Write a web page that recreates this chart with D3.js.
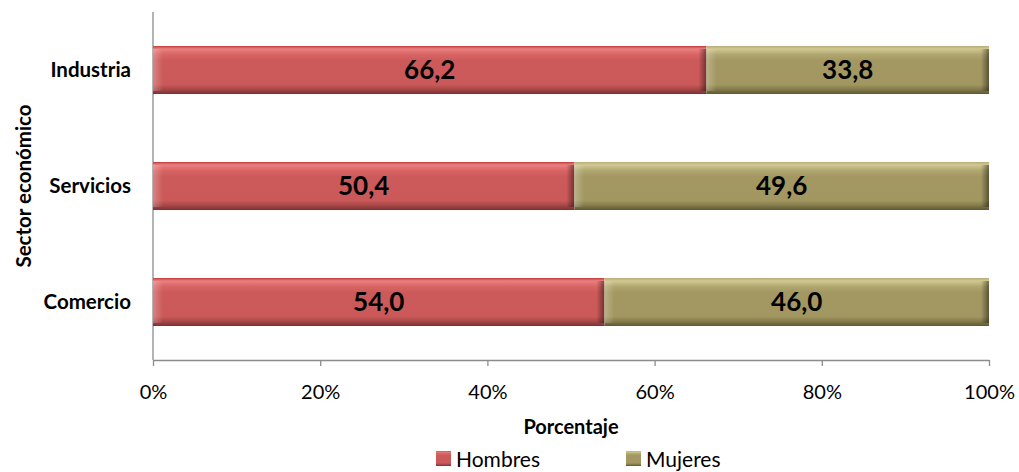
<!DOCTYPE html>
<html><head><meta charset="utf-8">
<script src="https://cdn.jsdelivr.net/npm/d3@7"></script>
<style>body{margin:0;background:#fff}svg{display:block}</style>
</head><body>
<svg id="c" width="1019" height="472"></svg>
<script>
const categories = ["Industria", "Servicios", "Comercio"];
const hombres = [66.2, 50.4, 54.0];
const mujeres = [33.8, 49.6, 46.0];
const seriesNames = ["Hombres", "Mujeres"];
const xTicks = [0, 20, 40, 60, 80, 100];

const FONT = "Lato, 'Open Sans', sans-serif";
const svg = d3.select("#c");
const m = {l:153, r:1019-989, t:12, b:472-360};
const W = 1019, H = 472;
const x = d3.scaleLinear().domain([0,100]).range([m.l, W-m.r]);
const y = d3.scaleBand().domain(categories).range([m.t, H-m.b]).paddingInner(0.586).paddingOuter(0.293);

const defs = svg.append("defs");
function grad(id, stops){
  const g = defs.append("linearGradient").attr("id", id).attr("x1",0).attr("y1",0).attr("x2",0).attr("y2",1);
  stops.forEach(s=>g.append("stop").attr("offset", s[0]).attr("stop-color", s[1]));
}
grad("gH", [[0,"#c53a3a"],[0.06,"#e98080"],[0.18,"#d86464"],[0.3,"#cd5a5a"],[0.8,"#cb5959"],[0.9,"#a84848"],[1,"#7e3030"]]);
grad("gM", [[0,"#b5ac79"],[0.06,"#d2c892"],[0.18,"#b0a670"],[0.3,"#a39862"],[0.8,"#a29761"],[0.9,"#857c4c"],[1,"#5e5734"]]);
function hgrad(id, c1, op){
  const g = defs.append("linearGradient").attr("id", id).attr("x1",0).attr("y1",0).attr("x2",1).attr("y2",0);
  g.append("stop").attr("offset",0).attr("stop-color",c1).attr("stop-opacity",op);
  g.append("stop").attr("offset",1).attr("stop-color",c1).attr("stop-opacity",0);
}
hgrad("edgeL","#ffffff",0.25);
hgrad("edgeR","#000000",0.45);

const rows = categories.map((c,i)=>({c, segs:[
  {s:0, x0:0, x1:hombres[i], v:hombres[i]},
  {s:1, x0:hombres[i], x1:hombres[i]+mujeres[i], v:mujeres[i]}
]}));

// axes
svg.append("line").attr("x1",x(0)).attr("x2",x(0)).attr("y1",m.t).attr("y2",H-m.b).attr("stroke","#8c8c8c").attr("stroke-width",1.3);
const xa = svg.append("g").attr("transform",`translate(0,${H-m.b})`)
  .call(d3.axisBottom(x).tickValues(xTicks).tickSize(6).tickSizeOuter(0).tickFormat(d=>d+"%"));
xa.select(".domain").attr("stroke","#8c8c8c").attr("stroke-width",1.3);
xa.selectAll(".tick line").attr("stroke","#8c8c8c").attr("stroke-width",1.3);
xa.selectAll(".tick text").attr("y",25).attr("font-family",FONT).attr("font-size",20).attr("fill","#000");

const ya = svg.append("g").attr("transform",`translate(${x(0)},0)`)
  .call(d3.axisLeft(y).tickSize(0));
ya.select(".domain").remove();
ya.selectAll(".tick text").attr("x",-22).attr("font-family",FONT).attr("font-size",20.5).attr("font-weight","bold").attr("fill","#000");

// bars
const fills = ["url(#gH)","url(#gM)"];
const g = svg.append("g");
rows.forEach(r=>{
  r.segs.forEach(sg=>{
    const x0 = x(sg.x0), w = x(sg.x1)-x(sg.x0), y0 = y(r.c), h = y.bandwidth();
    g.append("rect").attr("x",x0).attr("y",y0).attr("width",w).attr("height",h).attr("fill",fills[sg.s]);
    g.append("rect").attr("x",x0).attr("y",y0+3).attr("width",10).attr("height",h-6).attr("fill","url(#edgeL)");
    g.append("rect").attr("x",x0+w-8).attr("y",y0+3).attr("width",8).attr("height",h-6).attr("fill","url(#edgeR)").attr("transform",`rotate(180,${x0+w-4},${y0+h/2})`);
    g.append("text").attr("x",x0+w/2).attr("y",y0+h/2).attr("dy","0.36em").attr("text-anchor","middle")
      .attr("font-family",FONT).attr("font-weight","bold").attr("font-size",26).attr("fill","#000")
      .text(sg.v.toFixed(1).replace(".",","));
  });
});

// axis titles
svg.append("text").attr("x",(x(0)+x(100))/2).attr("y",434).attr("text-anchor","middle")
  .attr("font-family",FONT).attr("font-weight","bold").attr("font-size",20).text("Porcentaje");
svg.append("text").attr("transform",`translate(31,${(m.t+H-m.b)/2}) rotate(-90)`).attr("text-anchor","middle")
  .attr("font-family",FONT).attr("font-weight","bold").attr("font-size",20.5).text("Sector económico");

// legend
const lg = svg.append("g");
const lx = [436, 626];
seriesNames.forEach((n,i)=>{
  lg.append("rect").attr("x",lx[i]).attr("y",451).attr("width",15).attr("height",15).attr("fill",fills[i]);
  lg.append("text").attr("x",lx[i]+20).attr("y",467).attr("font-family",FONT).attr("font-size",21).text(n);
});
</script>
</body></html>
